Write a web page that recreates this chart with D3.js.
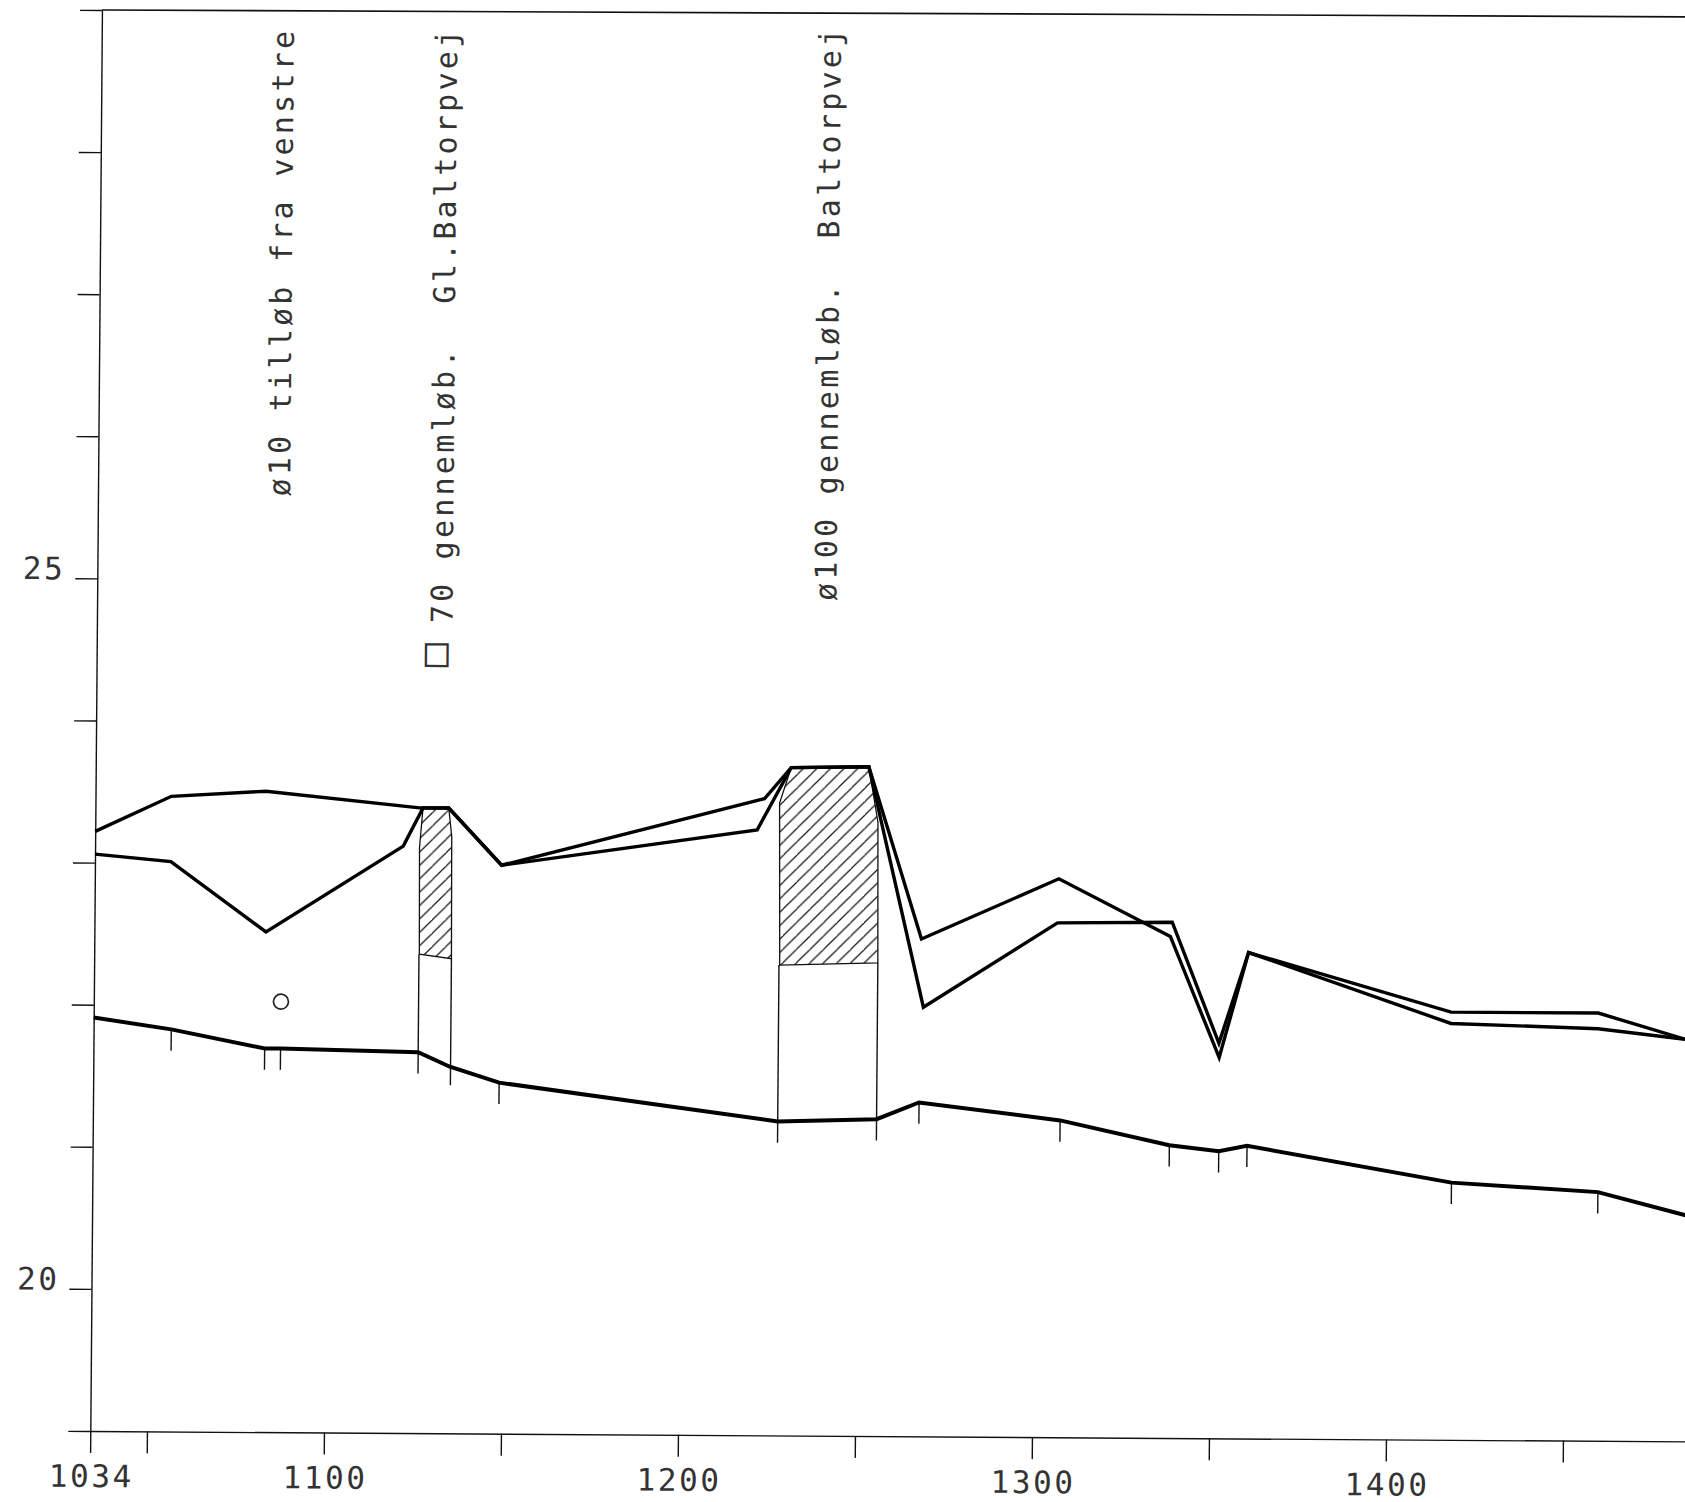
<!DOCTYPE html>
<html>
<head>
<meta charset="utf-8">
<script src="https://cdn.jsdelivr.net/npm/d3@7"></script>
<style>
  body { margin: 0; background: #fff; }
  text { font-family: "DejaVu Sans Mono", monospace; fill: #333; }
</style>
</head>
<body>
<svg id="grafico" width="1685" height="1502"></svg>
<script>
// stations and levels
const bund = [[1034,21.91],[1056,21.83],[1082.5,21.70],[1087,21.70],[1126,21.68],[1135,21.58],[1149,21.47],
  [1228,21.21],[1256,21.23],[1268,21.35],[1308,21.23],[1339,21.06],[1353,21.02],[1361,21.06],
  [1419,20.81],[1460.5,20.75],[1485.5,20.59]];
const linjeA = [[1034,23.22],[1055.5,23.47],[1082.3,23.51],[1125.8,23.40],[1134.1,23.40],[1149.2,23.00],
  [1223.5,23.48],[1231,23.70],[1253,23.71],[1268.3,22.50],[1307.1,22.93],[1338.8,22.53],
  [1352.9,21.68],[1361,22.42],[1418.5,21.93],[1460.2,21.90],[1484.8,21.83]];
const linjeB = [[1034,23.06],[1055.5,23.01],[1082.6,22.52],[1121.3,23.13],[1126.8,23.40],[1134.1,23.40],
  [1149.2,23.00],[1221.5,23.26],[1231,23.70],[1253,23.71],[1269,22.02],[1306.8,22.62],[1339.3,22.63],
  [1352.8,21.78],[1361,22.42],[1418.5,22.01],[1460.2,22.01],[1484.8,21.83]];
const hatchSmall = [[1126.8,23.40],[1134.1,23.40],[1135,23.20],[1135.2,22.34],[1126.1,22.37],[1125.9,23.12]];
const hatchBig = [[1231,23.70],[1253,23.71],[1255.7,23.32],[1256,22.33],[1228.2,22.31],[1227.8,23.45]];
const vaegge = [[1126,22.37,21.53],[1135.2,22.34,21.45],[1228,22.31,21.06],[1256,22.33,21.08]];
const brond = [[1087,22.03]];
const stationTicks = [1056,1082.5,1087,1149,1268,1308,1339,1353,1361,1419,1460.5];

const xTicks = [1034,1050,1100,1150,1200,1250,1300,1350,1400,1450];
const xLabels = [1034,1100,1200,1300,1400];
const yTicks = [19,20,21,22,23,24,25,26,27,28,29];
const yLabels = [20,25];

const noter = [
  { tekst: "ø10 tilløb fra venstre", x: 1088.4, y: 25.585, str: 30 },
  { tekst: "□", x: 1133.3, y: 24.39, str: 40 },
  { tekst: "70 gennemløb.  Gl.Baltorpvej", x: 1134.7, y: 24.70, str: 30 },
  { tekst: "ø100 gennemløb.  Baltorpvej", x: 1243.4, y: 24.875, str: 30 }
];

const svg = d3.select("#grafico");

const defs = svg.append("defs");
defs.append("pattern")
  .attr("id", "skravering")
  .attr("width", 13.5).attr("height", 13.5)
  .attr("patternUnits", "userSpaceOnUse")
  .append("path")
  .attr("d", "M-1,14.5 L14.5,-1 M-7,7 L7,-7 M6.5,21 L21,6.5")
  .attr("stroke", "#111").attr("stroke-width", 1.2);

const x = d3.scaleLinear().domain([1034, 1490]).range([0, 456 * 3.53]);
const y = d3.scaleLinear().domain([19, 29]).range([0, -1421]);
// lower edge of the scan is stretched a little compared to the plot area
const xKant = d3.scaleLinear().domain([1034, 1490]).range([0, 456 * 3.54]);

// the scanned sheet sits a little crooked
const g = svg.append("g").attr("transform", "matrix(1,0.0065,-0.0082,1,90.3,1431)");

const xAxis = d3.axisBottom(xKant)
  .tickValues(xTicks)
  .tickSize(22)
  .tickSizeOuter(0)
  .tickPadding(12)
  .tickFormat(d => d);
const yAxis = d3.axisLeft(y)
  .tickValues(yTicks)
  .tickSize(22)
  .tickSizeOuter(0)
  .tickPadding(10)
  .tickFormat(d => d);

const gx = g.append("g").call(xAxis);
const gy = g.append("g").call(yAxis);
gx.selectAll(".tick text").filter(d => !xLabels.includes(d)).remove();
gy.selectAll(".tick text").filter(d => !yLabels.includes(d)).remove();
g.selectAll(".domain, .tick line").attr("stroke", "#111").attr("stroke-width", 1.4);
g.selectAll(".tick text").attr("fill", "#333").style("font-size", "31px").style("letter-spacing", "2.6px");
gx.selectAll(".tick text").attr("dx", 1);
gy.selectAll(".tick text").attr("dy", "0.02em");

// top frame line, the sheet edge runs a bit flatter here
g.append("path")
  .datum([[1034,29],[1490,29.025]])
  .attr("d", d3.line().x(d => x(d[0])).y(d => y(d[1])))
  .attr("stroke", "#111").attr("stroke-width", 1.7);

const line = d3.line().x(d => x(d[0])).y(d => y(d[1]));

g.selectAll("path.hatch")
  .data([hatchSmall, hatchBig])
  .join("path")
  .attr("class", "hatch")
  .attr("d", d => line(d) + "Z")
  .attr("fill", "url(#skravering)")
  .attr("stroke", "#111")
  .attr("stroke-width", 1.3);

g.selectAll("line.vaeg")
  .data(vaegge)
  .join("line")
  .attr("class", "vaeg")
  .attr("x1", d => x(d[0])).attr("x2", d => x(d[0]))
  .attr("y1", d => y(d[1])).attr("y2", d => y(d[2]))
  .attr("stroke", "#111").attr("stroke-width", 1.4);

const bundAt = d3.scaleLinear().domain(bund.map(d => d[0])).range(bund.map(d => d[1]));
g.selectAll("line.station")
  .data(stationTicks)
  .join("line")
  .attr("class", "station")
  .attr("x1", d => x(d)).attr("x2", d => x(d))
  .attr("y1", d => y(bundAt(d))).attr("y2", d => y(bundAt(d) - 0.15))
  .attr("stroke", "#111").attr("stroke-width", 1.4);

g.selectAll("path.profil")
  .data([bund, linjeA, linjeB])
  .join("path")
  .attr("class", "profil")
  .attr("d", line)
  .attr("fill", "none")
  .attr("stroke", "#000")
  .attr("stroke-width", (_, i) => i === 0 ? 4 : 3.4)
  .attr("stroke-linejoin", "miter");

g.selectAll("circle")
  .data(brond)
  .join("circle")
  .attr("cx", d => x(d[0]))
  .attr("cy", d => y(d[1]))
  .attr("r", 7.5)
  .attr("fill", "none")
  .attr("stroke", "#222")
  .attr("stroke-width", 1.7);

g.selectAll("text.note")
  .data(noter)
  .join("text")
  .attr("class", "note")
  .attr("transform", d => `translate(${x(d.x)},${y(d.y)}) rotate(-90)`)
  .style("font-size", d => d.str + "px")
  .style("letter-spacing", "3.25px")
  .style("white-space", "pre")
  .text(d => d.tekst);
</script>
</body>
</html>
